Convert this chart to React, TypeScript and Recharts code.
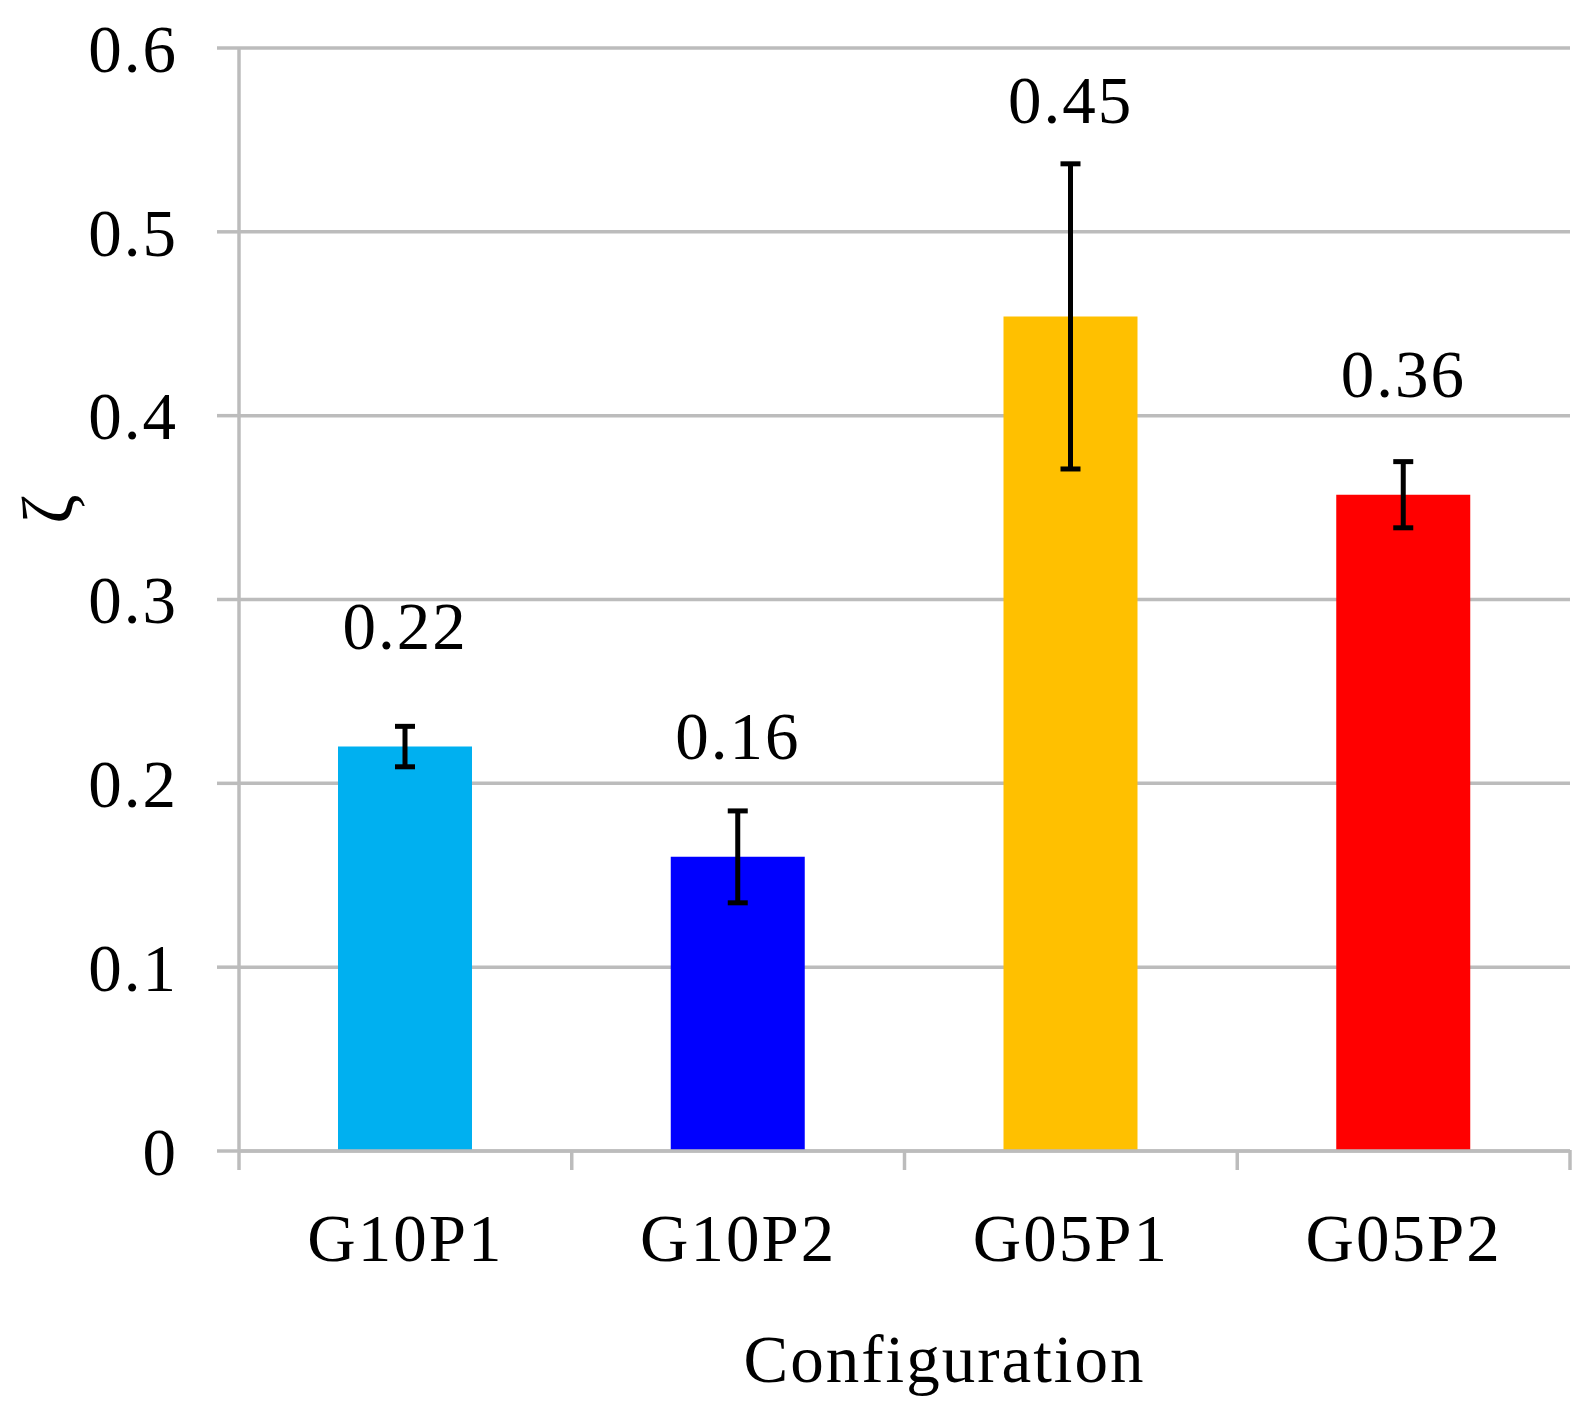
import React from 'react';
import { BarChart, Bar, XAxis, YAxis, CartesianGrid, ErrorBar, LabelList, Cell } from 'recharts';

const categories = ['G10P1', 'G10P2', 'G05P1', 'G05P2'];
const values = [0.22, 0.16, 0.454, 0.357];
const errors = [0.011, 0.025, 0.083, 0.018];
const colors = ['#00B0F0', '#0000FF', '#FFC000', '#FF0000'];
const yTicks = [0, 0.1, 0.2, 0.3, 0.4, 0.5, 0.6];
const edgeTicks = [0, 1, 2, 3, 4];

const data = categories.map((c, i) => ({ name: c, value: values[i], err: errors[i], pos: i + 0.5 }));

const FONT = '"Liberation Serif", "Times New Roman", serif';
const FS = 67;
const GRAY = '#bcbcbc';

const BarLabel = (props: any) => {
  const { x, y, width, height, value, index } = props;
  if (!value) return null;
  const pxPerUnit = height / value;
  const off = Math.max(0.065, errors[index] + 0.034);
  const cy = y - off * pxPerUnit;
  return (
    <text
      x={x + width / 2}
      y={cy + FS * 0.33}
      textAnchor="middle"
      fontFamily={FONT}
      fontSize={FS}
      letterSpacing={2}
      fill="#000"
    >
      {Number(value).toFixed(2)}
    </text>
  );
};

const YLabel = (props: any) => {
  const vb = props.viewBox;
  const cx = vb.x + 64;
  const cy = vb.y + vb.height * 0.418;
  return (
    <text
      x={cx}
      y={cy}
      textAnchor="middle"
      fontFamily={FONT}
      fontSize={FS + 4}
      fill="#000"
      transform={`rotate(-90, ${cx}, ${cy})`}
    >
      ζ
    </text>
  );
};

const XLabel = (props: any) => {
  const vb = props.viewBox;
  return (
    <text
      x={vb.x + vb.width / 2 + 40}
      y={vb.y + 230}
      textAnchor="middle"
      fontFamily={FONT}
      fontSize={FS}
      letterSpacing={2}
      fill="#000"
    >
      Configuration
    </text>
  );
};

const EdgeTick = (props: any) => {
  const { x, y } = props;
  return <line x1={x} y1={y - 1} x2={x} y2={y + 19} stroke={GRAY} strokeWidth={3.5} />;
};

export default function App() {
  return (
    <div style={{ width: 1577, height: 1398, background: '#fff' }}>
      <BarChart
        width={1577}
        height={1398}
        data={data}
        margin={{ top: 40, right: 15, left: 0, bottom: 0 }}
      >
        <CartesianGrid horizontal vertical={false} stroke={GRAY} strokeWidth={3.5} />
        <XAxis
          xAxisId={0}
          dataKey="pos"
          type="number"
          domain={[0, 4]}
          allowDataOverflow
          ticks={edgeTicks}
          interval={0}
          tick={<EdgeTick />}
          tickSize={0}
          tickMargin={0}
          height={1}
          axisLine={{ stroke: GRAY, strokeWidth: 3.5 }}
          tickLine={false}
        />
        <XAxis
          xAxisId="cat"
          dataKey="name"
          type="category"
          height={254}
          axisLine={false}
          tickLine={false}
          tickSize={0}
          tickMargin={61}
          interval={0}
          tick={{ fontFamily: FONT, fontSize: FS, fill: '#000', letterSpacing: 2 } as any}
          label={<XLabel />}
        />
        <YAxis
          domain={[0, 0.6]}
          ticks={yTicks}
          width={231}
          tickSize={22}
          tickMargin={39}
          interval={0}
          tickFormatter={(v: number) => (v === 0 ? '0' : v.toFixed(1))}
          axisLine={{ stroke: GRAY, strokeWidth: 3.5 }}
          tickLine={{ stroke: GRAY, strokeWidth: 3.5 }}
          tick={{ fontFamily: FONT, fontSize: FS, fill: '#000', letterSpacing: 2 } as any}
          label={<YLabel />}
        />
        <Bar dataKey="value" xAxisId="cat" barSize={134} isAnimationActive={false}>
          {data.map((d, i) => (
            <Cell key={d.name} fill={colors[i]} />
          ))}
          <ErrorBar dataKey="err" width={10} stroke="#000" strokeWidth={5} direction="y" />
          <LabelList dataKey="value" content={<BarLabel />} />
        </Bar>
      </BarChart>
    </div>
  );
}
